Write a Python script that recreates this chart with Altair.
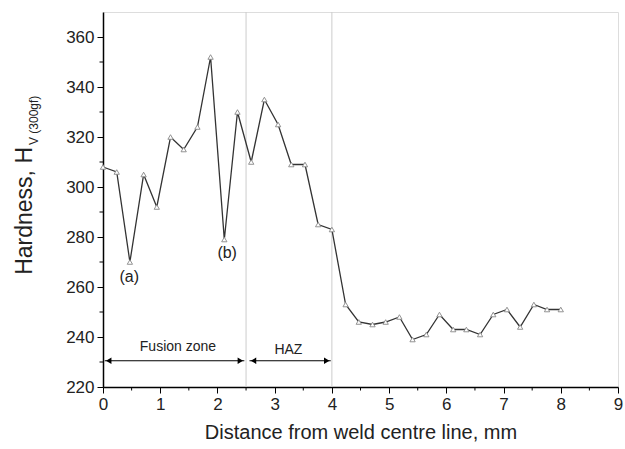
import altair as alt
import pandas as pd

distance = [0.0, 0.24, 0.47, 0.71, 0.94, 1.18, 1.41, 1.65, 1.88, 2.12, 2.35, 2.59,
            2.82, 3.06, 3.29, 3.53, 3.76, 4.0, 4.24, 4.47, 4.71, 4.94, 5.18, 5.41,
            5.65, 5.88, 6.12, 6.35, 6.59, 6.82, 7.06, 7.29, 7.53, 7.76, 8.0]
hardness = [308, 306, 270, 305, 292, 320, 315, 324, 352, 279, 330, 310,
            335, 325, 309, 309, 285, 283, 253, 246, 245, 246, 248, 239,
            241, 249, 243, 243, 241, 249, 251, 244, 253, 251, 251]

zone_bounds = [2.5, 4.0]
x_major = [0, 1, 2, 3, 4, 5, 6, 7, 8, 9]
x_minor = [0.5, 1.5, 2.5, 3.5, 4.5, 5.5, 6.5, 7.5, 8.5]
y_major = [220, 240, 260, 280, 300, 320, 340, 360]
y_minor = [230, 250, 270, 290, 310, 330, 350]

labels_text = ["(a)", "(b)", "Fusion zone", "HAZ"]
labels_x = [0.46, 2.17, 1.31, 3.24]
labels_y = [264, 273.5, 236, 235]

arrow_start = [0.03, 2.56]
arrow_end = [2.47, 3.98]
arrow_y = [230.5, 230.5]

W, H = 515, 375
FONT = "Liberation Sans"
XDOM = [0, 9]
YDOM = [220, 370]

df = pd.DataFrame({"d": distance, "h": hardness})
xs = alt.Scale(domain=XDOM, nice=False, zero=False)
ys = alt.Scale(domain=YDOM, nice=False, zero=False)

xaxis = alt.Axis(values=x_major, format="d", title="Distance from weld centre line, mm",
                 grid=False, tickSize=6, tickColor="black", domainColor="black",
                 domainWidth=1.5, labelFont=FONT, labelFontSize=17, labelColor="#222",
                 labelPadding=3, titleFont=FONT, titleFontSize=20,
                 titleFontWeight="normal", titleColor="#222", titlePadding=10,
                 labelFlush=False)
yaxis = alt.Axis(values=y_major, format="d", title=None, grid=False, tickSize=6,
                 tickColor="black", domainColor="black", domainWidth=1.5,
                 labelFont=FONT, labelFontSize=17, labelColor="#222", labelPadding=3)

vlines = alt.Chart(pd.DataFrame({"x": zone_bounds})).mark_rule(
    color="#cccccc", strokeWidth=1).encode(
    x=alt.X("x:Q", scale=xs, axis=xaxis), y=alt.value(0), y2=alt.value(H))

line = alt.Chart(df).mark_line(color="#333333", strokeWidth=1.3).encode(
    x=alt.X("d:Q", scale=xs, axis=xaxis), y=alt.Y("h:Q", scale=ys, axis=yaxis))

pts = alt.Chart(df).mark_point(shape="triangle-up", size=28, filled=True,
                               fill="white", stroke="#888888", strokeWidth=0.9,
                               opacity=1).encode(
    x=alt.X("d:Q", scale=xs), y=alt.Y("h:Q", scale=ys))

lab_df = pd.DataFrame({"t": labels_text, "x": labels_x, "y": labels_y,
                       "s": [16, 16, 14, 14]})
labs = alt.Chart(lab_df).mark_text(font=FONT, color="#222", baseline="middle").encode(
    x=alt.X("x:Q", scale=xs), y=alt.Y("y:Q", scale=ys), text="t:N",
    size=alt.Size("s:Q", scale=None, legend=None))

arr_df = pd.DataFrame({"x1": arrow_start, "x2": arrow_end, "y": arrow_y})
arr = alt.Chart(arr_df).mark_rule(color="black", strokeWidth=1.2).encode(
    x=alt.X("x1:Q", scale=xs), x2="x2:Q", y=alt.Y("y:Q", scale=ys))
head_l = alt.Chart(arr_df).mark_point(shape="triangle-left", filled=True, color="black",
                                      size=40, opacity=1, xOffset=4).encode(
    x=alt.X("x1:Q", scale=xs), y=alt.Y("y:Q", scale=ys))
head_r = alt.Chart(arr_df).mark_point(shape="triangle-right", filled=True, color="black",
                                      size=40, opacity=1, xOffset=-4).encode(
    x=alt.X("x2:Q", scale=xs), y=alt.Y("y:Q", scale=ys))

xminor = alt.Chart(pd.DataFrame({"x": x_minor})).mark_rule(color="black", strokeWidth=1).encode(
    x=alt.X("x:Q", scale=xs), y=alt.value(H), y2=alt.value(H + 3.5))
yminor = alt.Chart(pd.DataFrame({"y": y_minor})).mark_rule(color="black", strokeWidth=1).encode(
    y=alt.Y("y:Q", scale=ys), x=alt.value(0), x2=alt.value(-3.5))

ytitle_main = alt.Chart(pd.DataFrame({"t": ["Hardness, H"]})).mark_text(
    font=FONT, fontSize=23, angle=270, align="right", baseline="middle", color="#222").encode(
    text="t:N", x=alt.value(-78), y=alt.value(135))
ytitle_sub = alt.Chart(pd.DataFrame({"t": ["V (300gf)"]})).mark_text(
    font=FONT, fontSize=12, angle=270, align="left", baseline="middle", color="#222").encode(
    text="t:N", x=alt.value(-69), y=alt.value(133))

chart = alt.layer(vlines, line, pts, arr, head_l, head_r, labs, xminor, yminor,
                  ytitle_main, ytitle_sub).properties(
    width=W, height=H,
    autosize=alt.AutoSizeParams(type="none"),
    padding={"left": 103, "top": 12, "right": 7, "bottom": 62},
).configure_view(stroke="black", strokeWidth=1.5).configure(background="white")

chart.save("out.html", embed_options={"renderer": "svg", "actions": False})
